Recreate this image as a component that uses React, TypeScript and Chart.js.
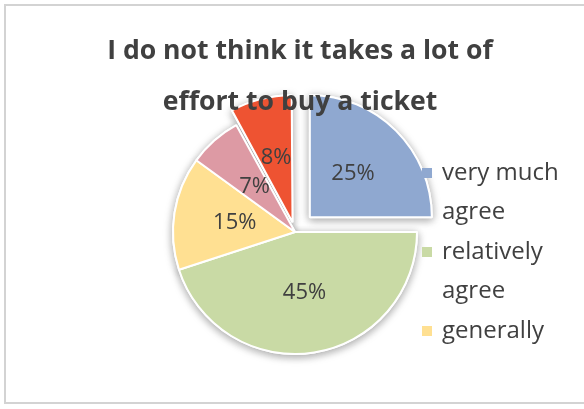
import React, { useEffect, useRef } from "react";
import { Chart, registerables } from "chart.js";

Chart.register(...registerables);

const titleLines = ["I do not think it takes a lot of", "effort to buy a ticket"];
const categories = ["very much agree", "relatively agree", "generally", "relatively disagree", "very much disagree"];
const values = [25, 45, 15, 7, 8];
const percentLabels = ["25%", "45%", "15%", "7%", "8%"];
const sliceColors = ["#8FA8D0", "#C9DAA5", "#FFE092", "#DD9AA4", "#EE5332"];
const sliceOffsets = [84, 0, 0, 0, 40];

const FONT = "'Open Sans', 'Noto Sans', sans-serif";
const TEXT = "#404040";

const shadowPlugin = {
  id: "shadowPass",
  beforeDatasetsDraw(chart: any) {
    const ctx = chart.ctx;
    const meta = chart.getDatasetMeta(0);
    ctx.save();
    ctx.shadowColor = "rgba(0,0,0,0.35)";
    ctx.shadowBlur = 9;
    ctx.shadowOffsetX = 0;
    ctx.shadowOffsetY = 2;
    meta.data.forEach((arc: any) => arc.draw(ctx));
    ctx.restore();
  },
};

const labelPlugin = {
  id: "sliceLabels",
  afterDatasetsDraw(chart: any) {
    const ctx = chart.ctx;
    const meta = chart.getDatasetMeta(0);
    ctx.save();
    ctx.font = `22px ${FONT}`;
    ctx.fillStyle = TEXT;
    ctx.textAlign = "center";
    ctx.textBaseline = "middle";
    meta.data.forEach((arc: any, i: number) => {
      const p = arc.getProps(["x", "y", "startAngle", "endAngle", "outerRadius", "circumference"]);
      const off = (arc.options.offset || 0) / 4;
      const fix = 1 - Math.sin(Math.min(Math.PI, p.circumference || 0));
      const shift = off + off * fix;
      const half = (p.startAngle + p.endAngle) / 2;
      const r = shift + p.outerRadius / 2;
      ctx.fillText(percentLabels[i], p.x + Math.cos(half) * r, p.y + Math.sin(half) * r);
    });
    ctx.restore();
  },
};

const legendPlugin = {
  id: "wrapLegend",
  afterDraw(chart: any) {
    const ctx = chart.ctx;
    ctx.save();
    ctx.font = `24px ${FONT}`;
    ctx.textBaseline = "middle";
    ctx.textAlign = "left";
    const boxX = 422;
    const textX = 442;
    const maxW = 135;
    const lineH = 39.5;
    let y = 173;
    const bottom = 350;
    categories.forEach((cat, i) => {
      const words = cat.split(" ");
      const lines: string[] = [];
      let cur = "";
      words.forEach((w) => {
        const test = cur ? cur + " " + w : w;
        if (ctx.measureText(test).width > maxW && cur) {
          lines.push(cur);
          cur = w;
        } else cur = test;
      });
      if (cur) lines.push(cur);
      if (y + (lines.length - 1) * lineH > bottom) {
        y = 10000;
        return;
      }
      ctx.fillStyle = sliceColors[i];
      ctx.fillRect(boxX, y - 5, 10, 10);
      ctx.fillStyle = TEXT;
      lines.forEach((ln) => {
        ctx.fillText(ln, textX, y);
        y += lineH;
      });
    });
    ctx.restore();
  },
};

const titlePlugin = {
  id: "bigTitle",
  afterDraw(chart: any) {
    const ctx = chart.ctx;
    ctx.save();
    ctx.font = `bold 26.6px ${FONT}`;
    ctx.fillStyle = TEXT;
    ctx.textAlign = "center";
    ctx.textBaseline = "alphabetic";
    titleLines.forEach((t, i) => ctx.fillText(t, 300, 59 + i * 51));
    ctx.restore();
  },
};

export default function App() {
  const ref = useRef<HTMLCanvasElement>(null);
  useEffect(() => {
    if (!ref.current) return;
    const chart = new Chart(ref.current, {
      type: "pie",
      data: {
        labels: categories,
        datasets: [
          {
            data: values,
            backgroundColor: sliceColors,
            borderColor: "#FFFFFF",
            borderWidth: 2,
            offset: sliceOffsets,
          },
        ],
      },
      options: {
        animation: false,
        responsive: false,
        radius: 122,
        layout: { padding: { left: 100, right: 94, top: 80, bottom: 25 } },
        plugins: {
          legend: { display: false },
          title: { display: false },
          tooltip: { enabled: false },
        },
      } as any,
      plugins: [shadowPlugin, labelPlugin, legendPlugin, titlePlugin],
    });
    return () => chart.destroy();
  }, []);
  return (
    <div style={{ position: "fixed", left: 0, top: 0, width: 584, height: 409, overflow: "hidden", background: "#fff" }}>
      <div
        style={{
          position: "absolute",
          left: 4,
          top: 4,
          width: 640,
          height: 400,
          border: "2px solid #d3d3d3",
          boxSizing: "border-box",
        }}
      />
      <canvas ref={ref} width={584} height={409} style={{ position: "absolute", left: 0, top: 0 }} />
    </div>
  );
}
